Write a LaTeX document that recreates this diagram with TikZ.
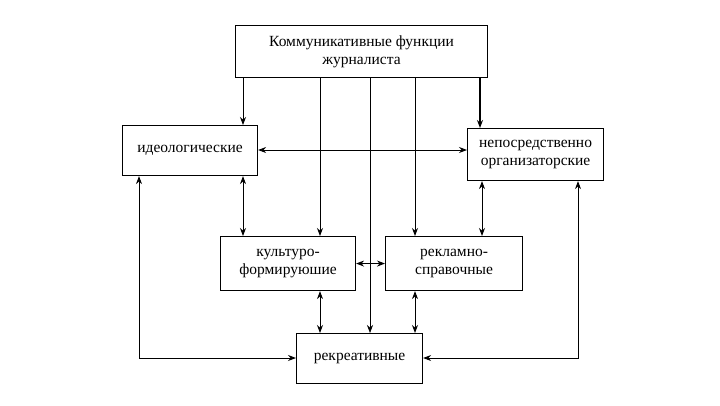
\documentclass[tikz,border=0pt]{standalone}
\usepackage{fontspec}
\setmainfont{Liberation Serif}
\usetikzlibrary{arrows.meta}
\begin{document}
\begin{tikzpicture}[x=1pt,y=-1pt,
  box/.style={draw,line width=1.1pt,inner sep=0pt,anchor=north west,align=center,font=\fontsize{15.5}{17.5}\selectfont},
  conn/.style={line width=0.9pt,-{Stealth[length=8pt,width=6pt]}},
  dconn/.style={line width=0.9pt,{Stealth[length=8pt,width=6pt]}-{Stealth[length=8pt,width=6pt]}}]
\useasboundingbox (0,0) rectangle (720,405);
\node[box,minimum width=252pt,minimum height=52pt] (top) at (235,25) {Коммуникативные функции\\журналиста};
\node[box,minimum width=135pt,minimum height=50pt] (ideo) at (122,125) {идеологические};
\node[box,minimum width=136pt,minimum height=52pt] (org) at (467,128) {непосредственно\\организаторские};
\node[box,minimum width=135pt,minimum height=54pt] (kult) at (220,236) {культуро-\\формируюшие};
\node[box,minimum width=137pt,minimum height=54pt] (rekl) at (385,236) {рекламно-\\справочные};
\node[box,minimum width=126pt,minimum height=50pt] (rekr) at (296,333) {рекреативные};
% from top
\draw[conn] (top.south west -| 243,0) -- (ideo.north -| 243,0);
\draw[conn] (top.south -| 320,0) -- (kult.north -| 320,0);
\draw[conn,line width=0.6pt] (top.south -| 370,0) -- (rekr.north -| 370,0);
\draw[conn] (top.south -| 415,0) -- (rekl.north -| 415,0);
\draw[conn,line width=1.2pt] (top.south -| 480,0) -- (org.north -| 480,0);
% horizontal
\draw[dconn] (ideo.east |- 0,150) -- (org.west |- 0,150);
\draw[dconn] (kult.east) -- (rekl.west);
% verticals
\draw[dconn] (ideo.south -| 243,0) -- (kult.north -| 243,0);
\draw[dconn] (org.south -| 482,0) -- (rekl.north -| 482,0);
\draw[dconn] (kult.south -| 320,0) -- (rekr.north -| 320,0);
\draw[dconn] (rekl.south -| 415,0) -- (rekr.north -| 415,0);
% outer loops
\coordinate (lc) at (139,358);
\coordinate (rc) at (578,358);
\draw[dconn] (ideo.south -| lc) -- (lc) -- (rekr.west |- lc);
\draw[dconn] (org.south -| rc) -- (rc) -- (rekr.east |- rc);
\end{tikzpicture}
\end{document}
